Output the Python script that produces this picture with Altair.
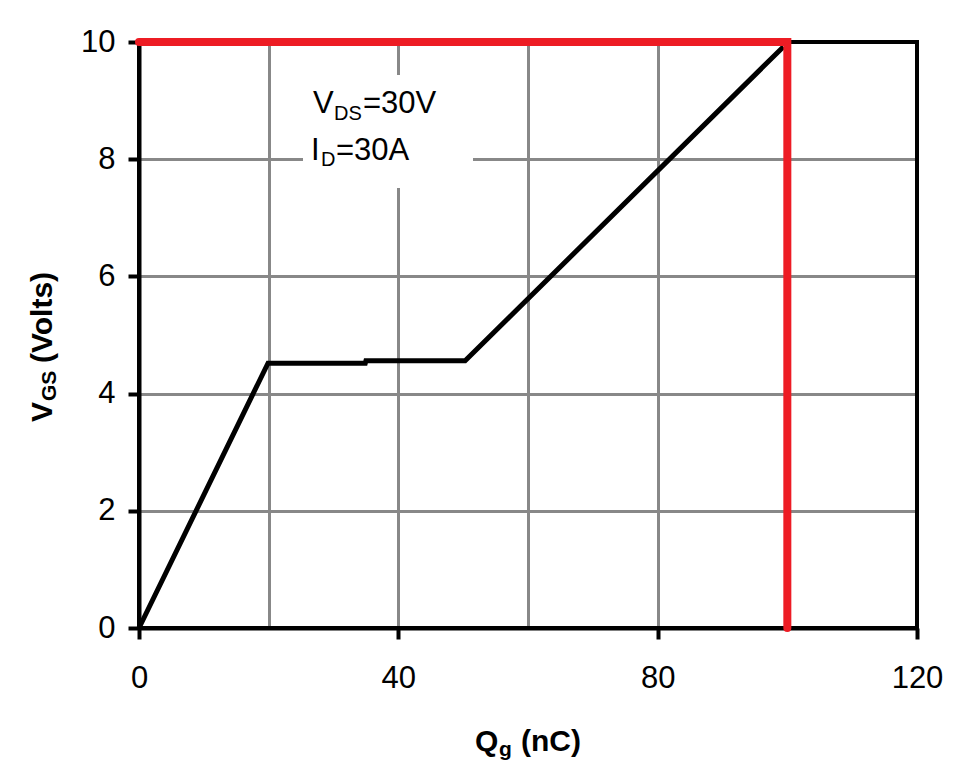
import altair as alt
import pandas as pd

# Gate charge curve (Qg in nC, VGS in V)
qg = [0, 19.9, 34.9, 35.0, 50.3, 99.4]
vgs = [0, 4.52, 4.52, 4.56, 4.56, 9.92]

# Red highlight path
red_q = [0, 100, 100]
red_v = [10, 10, 0]
red_order = [0, 1, 2]

x_grid_values = [0, 20, 40, 60, 80, 100, 120]
y_values = [0, 2, 4, 6, 8, 10]

FONT = "Liberation Sans, Arial, sans-serif"
W, H = 778, 586

curve_df = pd.DataFrame({"qg": qg, "vgs": vgs, "i": list(range(len(qg)))})
red_df = pd.DataFrame({"qg": red_q, "vgs": red_v, "i": red_order})

x_scale = alt.Scale(domain=[0, 120], nice=False, zero=False)
y_scale = alt.Scale(domain=[0, 10], nice=False, zero=False)

x_axis = alt.Axis(
    values=x_grid_values,
    title=None,
    grid=True, gridColor="#888888", gridWidth=3,
    domainColor="black", domainWidth=4,
    tickColor="black", tickWidth=4, tickSize=11,
    tickOpacity={"condition": {"test": "datum.value % 40 == 0", "value": 1}, "value": 0},
    labelExpr="datum.value % 40 == 0 ? datum.label : ''",
    labelFont=FONT, labelFontSize=31, labelColor="black",
    labelPadding=24, labelBaseline="top", labelFlush=False, labelOverlap=False,
)
y_axis = alt.Axis(
    values=y_values, format="d",
    title=None,
    grid=True, gridColor="#888888", gridWidth=3,
    domainColor="black", domainWidth=4,
    tickColor="black", tickWidth=4, tickSize=11,
    labelFont=FONT, labelFontSize=31, labelColor="black",
    labelPadding=13, labelFlush=False, labelOverlap=False,
)

curve = alt.Chart(curve_df).mark_line(color="black", strokeWidth=5, clip=False).encode(
    x=alt.X("qg:Q", scale=x_scale, axis=x_axis),
    y=alt.Y("vgs:Q", scale=y_scale, axis=y_axis),
    order="i:O",
)

red = alt.Chart(red_df).mark_line(
    color="#ED1C24", strokeWidth=8, strokeCap="round", strokeJoin="miter", clip=False
).encode(
    x=alt.X("qg:Q", scale=x_scale),
    y=alt.Y("vgs:Q", scale=y_scale),
    order="i:O",
)

one = pd.DataFrame({"a": [0]})

# Plot frame
frame = alt.Chart(one).mark_rect(fill=None, stroke="black", strokeWidth=4).encode(
    x=alt.value(0), x2=alt.value(W), y=alt.value(0), y2=alt.value(H)
)

# White box behind the annotation
box = alt.Chart(one).mark_rect(color="white").encode(
    x=alt.value(164), x2=alt.value(334), y=alt.value(33), y2=alt.value(146)
)

def txt(s, x, y, size, bold=False, angle=None):
    kw = dict(text=s, font=FONT, fontSize=size, color="black", align="left",
              baseline="alphabetic", fontWeight="bold" if bold else "normal")
    if angle is not None:
        kw["angle"] = angle
    return alt.Chart(one).mark_text(**kw).encode(x=alt.value(x), y=alt.value(y))

texts = [
    # annotation
    txt("V", 174, 71, 31),
    txt("DS", 195, 78, 20),
    txt("=30V", 224, 71, 31),
    txt("I", 172, 118, 31),
    txt("D", 182, 124, 20),
    txt("=30A", 197, 118, 31),
    # x title
    txt("Q", 336, 709, 30, bold=True),
    txt("g", 360, 714, 21, bold=True),
    txt("(nC)", 382, 709, 30, bold=True),
    # y title (rotated)
    txt("V", -87, 380, 30, bold=True, angle=270),
    txt("GS", -83, 359, 21, bold=True, angle=270),
    txt("(Volts)", -87, 321, 30, bold=True, angle=270),
]

chart = alt.layer(box, frame, curve, red, *texts).properties(
    width=W, height=H,
    autosize=alt.AutoSizeParams(type="none"),
    padding={"left": 131, "top": 34, "right": 28, "bottom": 140},
    background="white",
).configure_view(stroke=None)

chart.save("out.html", embed_options={"renderer": "svg", "actions": False})
